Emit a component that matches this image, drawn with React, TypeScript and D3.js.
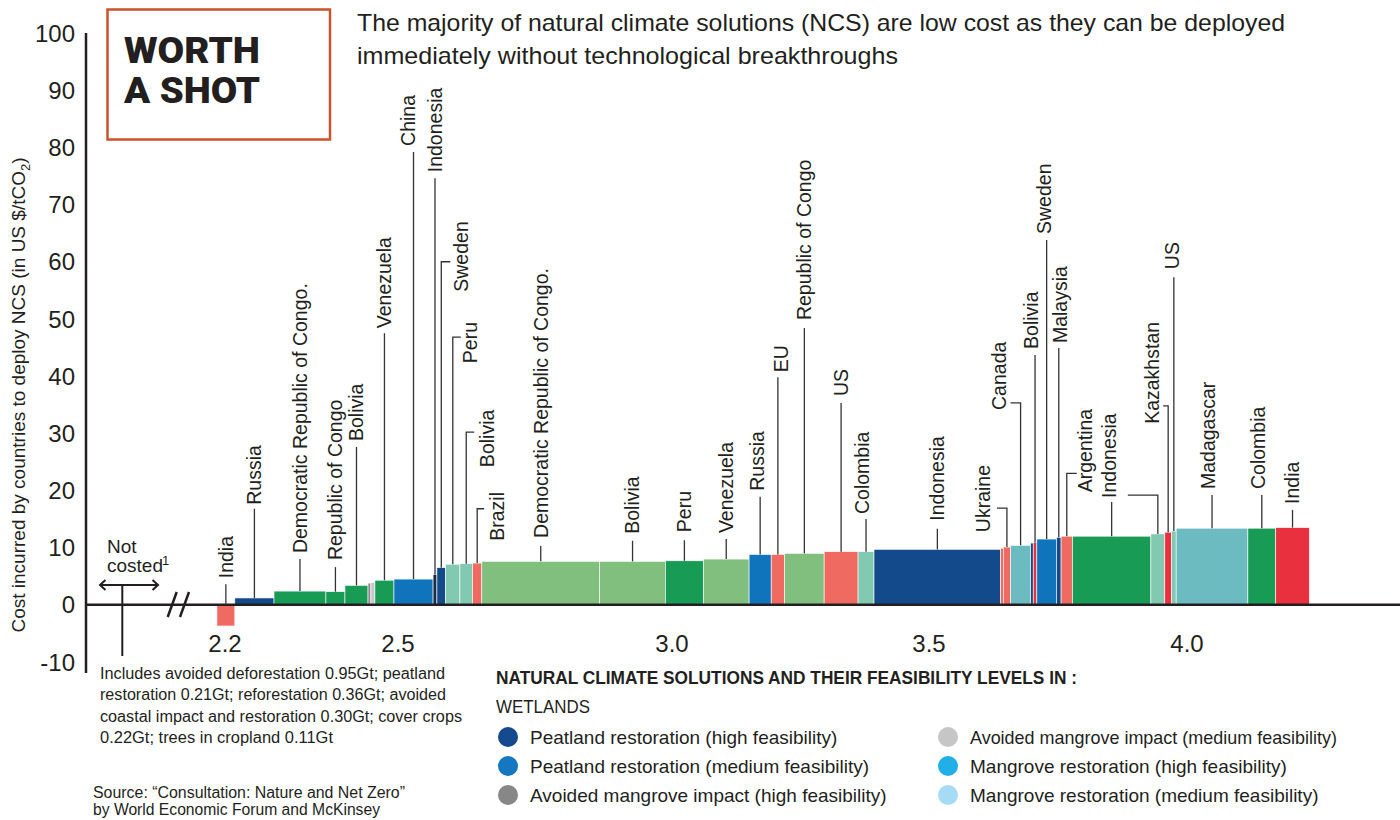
import * as d3 from "d3";
import { useRef, useEffect } from "react";

// bars, left to right: country, abatement potential (Gt), cost ($/tCO2), solution colour key
const countries = [
    "India", "Russia", "Democratic Republic of Congo.", "Republic of Congo", "Bolivia", "", "",
    "Venezuela", "China", "Indonesia", "Sweden", "Peru", "Bolivia", "Brazil",
    "Democratic Republic of Congo.", "Bolivia", "Peru", "Venezuela", "Russia", "EU",
    "Republic of Congo", "US", "Colombia", "Indonesia", "", "Ukraine", "Canada", "",
    "Bolivia", "Sweden", "Malaysia", "Argentina", "Indonesia", "", "Kazakhstan", "US",
    "Madagascar", "Colombia", "India",
];
const potentialGt = [
    0.031, 0.068, 0.090, 0.033, 0.040, 0.005, 0.007,
    0.033, 0.071, 0.007, 0.016, 0.026, 0.023, 0.017,
    0.215, 0.120, 0.073, 0.089, 0.043, 0.026,
    0.077, 0.066, 0.031, 0.246, 0.005, 0.014, 0.039, 0.005,
    0.007, 0.038, 0.009, 0.022, 0.152, 0.027, 0.013, 0.009,
    0.139, 0.054, 0.065,
];
const costPerTonne = [
    -3.7, 1.2, 2.4, 2.3, 3.4, 3.8, 3.9,
    4.3, 4.5, 5.3, 6.5, 7.1, 7.2, 7.3,
    7.6, 7.6, 7.7, 8.0, 8.8, 8.8,
    9.0, 9.3, 9.3, 9.7, 9.9, 10.1, 10.4, 10.8,
    10.9, 11.5, 11.8, 12.0, 12.0, 12.4, 12.7, 12.9,
    13.4, 13.4, 13.5,
];
const solutionKind = [
    "salmon", "peatHigh", "green", "green", "green", "grey", "lightGrey",
    "green", "peatMed", "navy", "peatHigh", "mint", "mint", "salmon",
    "lightGreen", "lightGreen", "green", "lightGreen", "peatMed", "salmon",
    "lightGreen", "salmon", "mint", "peatHigh", "salmon", "salmon", "teal", "peatHigh",
    "red", "peatMed", "peatHigh", "salmon", "green", "mint", "red", "mint",
    "teal", "green", "red",
];
const START_GT = 2.186;

const costTicks = [100, 90, 80, 70, 60, 50, 40, 30, 20, 10, 0, -10];
const potentialTicks = [2.2, 2.5, 3.0, 3.5, 4.0];

const kindColors: Record<string, string> = {
    salmon: "#ef6a60",
    peatHigh: "#134a8b",
    peatMed: "#1074bc",
    green: "#179b55",
    lightGreen: "#80bf7e",
    mint: "#82c9b1",
    teal: "#6cbbc0",
    red: "#e8303f",
    grey: "#8a8a8a",
    lightGrey: "#c8c8c8",
    navy: "#1b2c46",
};

const legendLabels = [
    "Peatland restoration (high feasibility)",
    "Peatland restoration (medium feasibility)",
    "Avoided mangrove impact (high feasibility)",
    "Avoided mangrove impact (medium feasibility)",
    "Mangrove restoration (high feasibility)",
    "Mangrove restoration (medium feasibility)",
];
const legendColors = ["#154a8e", "#1577c0", "#878787", "#c6c6c6", "#22aee6", "#a6dbf5"];

const footnoteLines = [
    "Includes avoided deforestation 0.95Gt; peatland",
    "restoration 0.21Gt; reforestation 0.36Gt; avoided",
    "coastal impact and restoration 0.30Gt; cover crops",
    "0.22Gt; trees in cropland 0.11Gt",
];
const footnoteWidths = [345, 346, 362, 233];

// where each country label sits: leader top (in $/t), elbow, text offset
const labelLayout = [
    { i: 0, top: 3.6, tb: -6 },
    { i: 1, top: 16.8, tb: -4 },
    { i: 2, top: 8.0, tb: -6 },
    { i: 3, top: 6.6, tb: -7 },
    { i: 4, top: 27.6, tb: -6 },
    { i: 7, top: 47.5, tb: -5 },
    { i: 8, top: 79.2, tb: -6, tx: -5 },
    { i: 9, top: 74.6, tb: -6 },
    { i: 10, top: 60.0, elbow: 9, tx: 20, tb: 30 },
    { i: 11, top: 46.8, elbow: 8, tx: 17, tb: 26 },
    { i: 12, top: 30.2, elbow: 8, tx: 21, tb: 35 },
    { i: 13, top: 16.8, elbow: 7, tx: 20, tb: 32 },
    { i: 14, top: 10.3, tb: -8 },
    { i: 15, top: 11.2, tb: -7 },
    { i: 16, top: 11.3, tb: -8 },
    { i: 17, top: 11.5, tb: -6 },
    { i: 18, top: 18.9, tb: -6, tx: -3 },
    { i: 19, top: 39.8, tb: -5, tx: 3 },
    { i: 20, top: 48.4, tb: -8 },
    { i: 21, top: 35.3, tb: -7 },
    { i: 22, top: 15.0, tb: -5, tx: -4 },
    { i: 23, top: 13.3, tb: -8 },
    { i: 25, top: 16.9, elbow: -10, tx: -24, tb: 24 },
    { i: 26, top: 35.3, elbow: -10, tx: -21, tb: 7 },
    { i: 28, top: 43.7, tb: -6, tx: -4 },
    { i: 29, top: 63.8, tb: -6, tx: -2 },
    { i: 30, top: 44.9, tb: -5, tx: 1 },
    { i: 31, top: 23.0, elbow: 10, tx: 18, tb: 19 },
    { i: 32, top: 18.0, tb: -4, tx: -2 },
    { i: 33, top: 19.2, elbow: -30, tb: 0 },
    { i: 34, top: 34.8, elbow: -5, tx: -16, tb: 18 },
    { i: 35, top: 57.3, tb: -8, tx: -2 },
    { i: 36, top: 19.2, tb: -6, tx: -4 },
    { i: 37, top: 19.2, tb: -6, tx: -4 },
    { i: 38, top: 16.6, tb: -6 },
];

const INK = "#231f20";
const SANS = "'Liberation Sans', Arial, sans-serif";

export default function App() {
    const ref = useRef<SVGSVGElement | null>(null);

    useEffect(() => {
        const svg = d3.select(ref.current);
        svg.selectAll("*").remove();

        const width = 1400;
        const height = 820;
        svg.attr("width", width).attr("height", height).attr("font-family", SANS);

        svg.append("rect").attr("width", width).attr("height", height).attr("fill", "#fff");

        // the original axis is not evenly spaced, so map each tick where it is drawn
        const x = d3.scaleLinear().domain(potentialTicks).range([225, 398, 672, 929, 1187]);
        const y = d3.scaleLinear().domain([-10, 100]).range([662, 33]);
        const color = (k: string) => kindColors[k];

        const ends = Array.from(d3.cumsum(potentialGt), (v) => v + START_GT);
        const bars = countries.map((c, i) => ({
            c,
            x0: i ? ends[i - 1] : START_GT,
            x1: ends[i],
            v: costPerTonne[i],
            k: solutionKind[i],
        }));

        // bars
        svg.append("g")
            .selectAll("rect")
            .data(bars)
            .enter()
            .append("rect")
            .attr("x", (d) => x(d.x0))
            .attr("width", (d) => x(d.x1) - x(d.x0))
            .attr("y", (d) => y(Math.max(d.v, 0)))
            .attr("height", (d) => Math.abs(y(d.v) - y(0)))
            .attr("fill", (d) => color(d.k))
            .attr("stroke", "#fff")
            .attr("stroke-width", 0.6);

        // axes
        svg.append("line")
            .attr("x1", 86).attr("x2", 86)
            .attr("y1", y(100)).attr("y2", 673)
            .attr("stroke", INK).attr("stroke-width", 2.5);
        svg.append("line")
            .attr("x1", 86).attr("x2", width)
            .attr("y1", y(0)).attr("y2", y(0))
            .attr("stroke", INK).attr("stroke-width", 2.5);

        svg.append("g")
            .selectAll("text")
            .data(costTicks)
            .enter()
            .append("text")
            .attr("x", 75)
            .attr("y", (d) => y(d))
            .attr("dy", "0.36em")
            .attr("text-anchor", "end")
            .attr("font-size", 24)
            .attr("fill", INK)
            .text((d) => d);

        svg.append("g")
            .selectAll("text")
            .data(potentialTicks)
            .enter()
            .append("text")
            .attr("x", (d) => x(d))
            .attr("y", 652)
            .attr("text-anchor", "middle")
            .attr("font-size", 24)
            .attr("fill", INK)
            .text((d) => d3.format(".1f")(d));

        // axis break
        [0, 12.3].forEach((off) => {
            svg.append("line")
                .attr("x1", 167.7 + off).attr("y1", 617)
                .attr("x2", 176.7 + off).attr("y2", 592)
                .attr("stroke", INK).attr("stroke-width", 2.5);
        });

        // y axis title
        const yt = svg.append("text")
            .attr("transform", "translate(18,395) rotate(-90)")
            .attr("text-anchor", "middle")
            .attr("dy", "0.35em")
            .attr("font-size", 19)
            .attr("fill", INK);
        yt.append("tspan").text("Cost incurred by countries to deploy NCS (in US $/tCO");
        yt.append("tspan").attr("font-size", 13).attr("dy", 5).text("2");
        yt.append("tspan").attr("dy", -5).text(")");

        // not costed marker
        svg.append("line")
            .attr("x1", 100).attr("x2", 158).attr("y1", 585).attr("y2", 585)
            .attr("stroke", INK).attr("stroke-width", 2);
        svg.append("path")
            .attr("d", "M105.5,580 L100,585 L105.5,590 M152.5,580 L158,585 L152.5,590")
            .attr("fill", "none").attr("stroke", INK).attr("stroke-width", 2);
        svg.append("line")
            .attr("x1", 122.3).attr("x2", 122.3).attr("y1", 585).attr("y2", 656)
            .attr("stroke", INK).attr("stroke-width", 2);
        svg.append("text").attr("x", 107).attr("y", 553).attr("font-size", 19).attr("fill", INK).text("Not");
        svg.append("text").attr("x", 107).attr("y", 572).attr("font-size", 19).attr("fill", INK).text("costed");
        svg.append("text").attr("x", 162).attr("y", 565).attr("font-size", 13).attr("fill", INK).text("1");

        // country labels with leader lines
        const lg = svg.append("g").attr("font-size", 19.5).attr("fill", INK);
        labelLayout.forEach((L: any) => {
            const b = bars[L.i];
            const cx = (x(b.x0) + x(b.x1)) / 2;
            const yTop = y(L.top);
            const p = d3.path();
            p.moveTo(cx, y(Math.max(b.v, 0)));
            p.lineTo(cx, yTop);
            if (L.elbow) p.lineTo(cx + L.elbow, yTop);
            lg.append("path")
                .attr("d", p.toString())
                .attr("fill", "none")
                .attr("stroke", "#333")
                .attr("stroke-width", 1.3);
            if (b.c) {
                lg.append("text")
                    .attr("transform", `translate(${cx + (L.tx || 0)},${yTop + L.tb}) rotate(-90)`)
                    .attr("dy", "0.35em")
                    .text(b.c);
            }
        });

        // headline box
        svg.append("rect")
            .attr("x", 107.5).attr("y", 9.5).attr("width", 222.5).attr("height", 130)
            .attr("fill", "none").attr("stroke", "#c9532b").attr("stroke-width", 2.5);
        ["WORTH", "A SHOT"].forEach((t, i) => {
            svg.append("text")
                .attr("x", 124).attr("y", 63 + i * 40)
                .attr("font-family", "Roboto, 'Liberation Sans', sans-serif")
                .attr("font-weight", 900)
                .attr("font-size", 37)
                .attr("textLength", 136)
                .attr("lengthAdjust", "spacingAndGlyphs")
                .attr("fill", INK)
                .text(t);
        });

        // title
        [
            ["The majority of natural climate solutions (NCS) are low cost as they can be deployed", 928],
            ["immediately without technological breakthroughs", 541],
        ].forEach(([t, w], i) => {
            svg.append("text")
                .attr("x", 357).attr("y", 31 + i * 33)
                .attr("font-size", 24)
                .attr("textLength", w as number)
                .attr("lengthAdjust", "spacingAndGlyphs")
                .attr("fill", INK)
                .text(t as string);
        });

        // footnote
        footnoteLines.forEach((t, i) => {
            svg.append("text")
                .attr("x", 100).attr("y", 679 + i * 21.3)
                .attr("font-size", 16)
                .attr("textLength", footnoteWidths[i])
                .attr("lengthAdjust", "spacingAndGlyphs")
                .attr("fill", INK)
                .text(t);
        });

        // source
        svg.append("text").attr("x", 93).attr("y", 798).attr("font-size", 16)
            .attr("textLength", 312).attr("lengthAdjust", "spacingAndGlyphs")
            .attr("fill", INK).text("Source: \u201cConsultation: Nature and Net Zero\u201d");
        svg.append("text").attr("x", 93).attr("y", 815).attr("font-size", 16)
            .attr("textLength", 287).attr("lengthAdjust", "spacingAndGlyphs")
            .attr("fill", INK).text("by World Economic Forum and McKinsey");

        // legend
        svg.append("text")
            .attr("x", 496).attr("y", 684)
            .attr("font-size", 18).attr("font-weight", 700)
            .attr("textLength", 581).attr("lengthAdjust", "spacingAndGlyphs")
            .attr("fill", INK)
            .text("NATURAL CLIMATE SOLUTIONS AND THEIR FEASIBILITY LEVELS IN :");
        svg.append("text")
            .attr("x", 496).attr("y", 713)
            .attr("font-size", 18)
            .attr("textLength", 94).attr("lengthAdjust", "spacingAndGlyphs")
            .attr("fill", INK)
            .text("WETLANDS");

        const legend = svg.append("g")
            .selectAll("g")
            .data(legendLabels)
            .enter()
            .append("g")
            .attr("transform", (_, i) => `translate(${i < 3 ? 508 : 948},${737 + (i % 3) * 29})`);
        legend.append("circle")
            .attr("r", 10)
            .attr("fill", (_, i) => legendColors[i]);
        legend.append("text")
            .attr("x", 22)
            .attr("dy", "0.35em")
            .attr("font-size", 19)
            .attr("fill", INK)
            .text((d) => d)
            .each(function (_, i) {
                // the reference sets this one a little tighter
                if (i === 3) d3.select(this).attr("textLength", 367).attr("lengthAdjust", "spacingAndGlyphs");
            });
    }, []);

    return <svg ref={ref} style={{ position: "absolute", left: 0, top: 0 }}></svg>;
}
